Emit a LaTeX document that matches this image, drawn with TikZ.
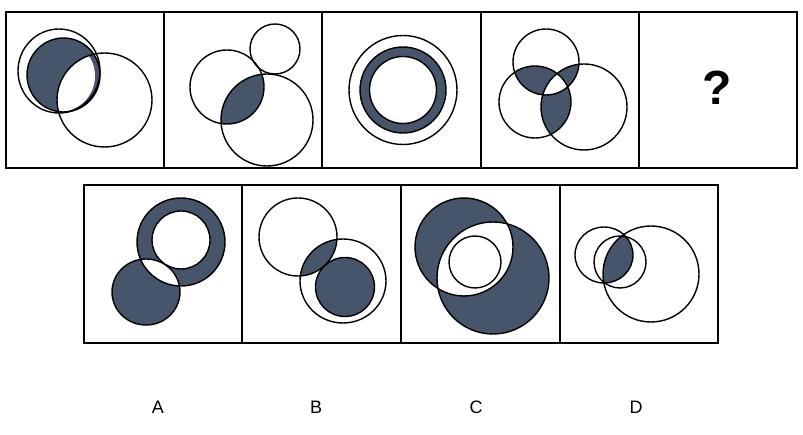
\documentclass[tikz,border=0pt]{standalone}
\usepackage{fontspec}
\setmainfont{Liberation Sans}
\definecolor{sh}{HTML}{465569}
\begin{document}
\begin{tikzpicture}[x=1pt,y=-1pt,line width=1.4pt,
  box/.style={draw,line width=1.3pt},
  lab/.style={font=\fontsize{18}{20}\selectfont}]
\useasboundingbox (0,0) rectangle (803,435);
% frames
\draw[box] (6,12) rectangle (797,168);
\foreach \x in {164,322,481,639} \draw[box] (\x,12) -- (\x,168);
\draw[box] (84,185) rectangle (718,343);
\foreach \x in {242,401,560} \draw[box] (\x,185) -- (\x,343);
% panel 1
\fill[sh] (63.5,75) ellipse (36.5 and 37);
\begin{scope}
\clip (104.5,100) ellipse (47.5 and 47);
\fill[white] (59,76) ellipse (36 and 36);
\end{scope}
\draw (59,71) ellipse (41 and 42);
\draw (63.5,75) ellipse (36.5 and 37);
\draw (104.5,100) ellipse (47.5 and 47);
% panel 2
\begin{scope}
\clip (227,87) circle (37);
\fill[sh] (267,120) circle (46);
\end{scope}
\draw (227,87) circle (37);
\draw (275,49) circle (25);
\draw (267,120) circle (46);
% panel 3
\fill[sh,even odd rule] (403,90) circle (43) (403,90) circle (33.5);
\draw (403,90) ellipse (54 and 54.5);
\draw (403,90) circle (43);
\draw (403,90) circle (33.5);
% panel 4
\begin{scope}\clip (546,62) circle (33); \fill[sh] (535,102) circle (36); \fill[sh] (584,107) circle (43);\end{scope}
\begin{scope}\clip (535,102) circle (36); \fill[sh] (584,107) circle (43);\end{scope}
\begin{scope}\clip (546,62) circle (33); \clip (535,102) circle (36); \fill[white] (584,107) circle (43);\end{scope}
\draw (546,62) circle (33);
\draw (535,102) circle (36);
\draw (584,107) circle (43);
\node[font=\bfseries\fontsize{48}{50}\selectfont] (q) at (717,88) {?};
% A
\fill[sh,even odd rule] (181,242) circle (44) (181,240) circle (29);
\fill[sh] (146,292) ellipse (34 and 33);
\begin{scope}\clip (146,292) ellipse (34 and 33); \fill[white] (181,242) circle (44);\end{scope}
\draw (181,242) circle (44);
\draw (181,240) circle (29);
\draw (146,292) ellipse (34 and 33);
% B
\begin{scope}\clip (298,237) circle (39); \fill[sh] (343,281) ellipse (43 and 42);\end{scope}
\fill[sh] (345,287) circle (29.5);
\draw (298,237) circle (39);
\draw (343,281) ellipse (43 and 42);
\draw (345,287) circle (29.5);
% C
\fill[sh,even odd rule] (464,247) circle (49) (493,278) circle (56);
\draw (464,247) circle (49);
\draw (493,278) circle (56);
\draw (475,262) circle (26);
% D
\begin{scope}\clip (604,255) ellipse (29 and 28); \fill[sh] (651,274) circle (48);\end{scope}
\draw (604,255) ellipse (29 and 28);
\draw (620,262) circle (26);
\draw (651,274) circle (48);
% labels
\node[lab] (la) at (158,407) {A};
\node[lab] (lb) at (316,407) {B};
\node[lab] (lc) at (476,407) {C};
\node[lab] (ld) at (636,407) {D};
\end{tikzpicture}
\end{document}
